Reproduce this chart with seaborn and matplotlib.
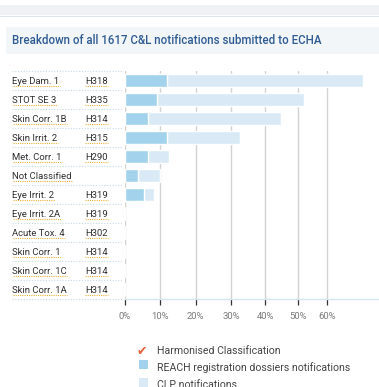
import numpy as np
import pandas as pd
import matplotlib
matplotlib.use("Agg")
import matplotlib.pyplot as plt
import matplotlib.transforms as mtransforms
from matplotlib.patches import Rectangle
from matplotlib.lines import Line2D
import seaborn as sns

# ---- data -------------------------------------------------------------
categories = ["Eye Dam. 1", "STOT SE 3", "Skin Corr. 1B", "Skin Irrit. 2",
              "Met. Corr. 1", "Not Classified", "Eye Irrit. 2", "Eye Irrit. 2A",
              "Acute Tox. 4", "Skin Corr. 1", "Skin Corr. 1C", "Skin Corr. 1A"]
hazard_codes = ["H318", "H335", "H314", "H315", "H290", "", "H319", "H319",
                "H302", "H314", "H314", "H314"]
reach_pct = [11.8, 9.0, 6.4, 11.8, 6.4, 3.6, 5.4, 0, 0, 0, 0, 0]
clp_pct = [72.6, 51.9, 44.7, 32.5, 12.5, 10.0, 8.1, 0, 0, 0, 0, 0]
tick_values = [0, 10, 20, 30, 40, 50, 60]
tick_labels = ["0%", "10%", "20%", "30%", "40%", "50%", "60%"]
legend_labels = ["Harmonised Classification",
                 "REACH registration dossiers notifications",
                 "CLP notifications"]

df = pd.DataFrame({"category": categories, "reach": reach_pct, "clp": clp_pct})

# ---- styling ----------------------------------------------------------
sns.set_style("white")
plt.rcParams["font.family"] = ["Roboto", "DejaVu Sans"]

W, H = 379, 387
fig = plt.figure(figsize=(W / 100, H / 100), dpi=100)


def fx(px):
    return px / W


def fy(py):
    return 1 - py / H


C_REACH = "#a3d3ec"
C_CLP = "#d9eaf6"
C_GRID = "#d2d2d2"

# header decorations
fig.patches.append(Rectangle((fx(0), fy(15)), 1, 10 / H, transform=fig.transFigure,
                             facecolor="#eef2f5", edgecolor="none", zorder=0))
fig.add_artist(Line2D([0, 1], [fy(15.5), fy(15.5)], transform=fig.transFigure,
                      color="#dde5ea", lw=0.8))
fig.patches.append(Rectangle((fx(6), fy(54)), 1, 27 / H, transform=fig.transFigure,
                             facecolor="#f2f6f9", edgecolor="none", zorder=0))
fig.text(fx(12), fy(41), "Breakdown of all 1617 C&L notifications submitted to ECHA",
         color="#2f5b92", fontsize=8.3, fontweight="medium", va="center", ha="left")

# ---- axes -------------------------------------------------------------
ax = fig.add_axes([fx(125), fy(299), fx(379) - fx(125), (299 - 71) / H])

# the axis spacing narrows slightly towards the upper percentages
grid_px = np.array([0, 35.3, 70.7, 106.0, 140.3, 173.3, 202.0])
grid_val = np.array(tick_values, dtype=float)
tail = (grid_px[-1] - grid_px[-2]) / (grid_val[-1] - grid_val[-2])


def fwd(x):
    x = np.asarray(x, dtype=float)
    return np.where(x <= grid_val[-1], np.interp(x, grid_val, grid_px),
                    grid_px[-1] + (x - grid_val[-1]) * tail)


def inv(p):
    p = np.asarray(p, dtype=float)
    return np.where(p <= grid_px[-1], np.interp(p, grid_px, grid_val),
                    grid_val[-1] + (p - grid_px[-1]) / tail)


ax.set_xscale("function", functions=(fwd, inv))

sns.barplot(data=df, x="clp", y="category", color=C_CLP, orient="h",
            width=0.64, ax=ax, saturation=1, zorder=2)
sns.barplot(data=df, x="reach", y="category", color=C_REACH, orient="h",
            width=0.64, ax=ax, saturation=1, zorder=3)

x_right = float(inv(379 - 125))
ax.set_xlim(0, x_right)
ax.set_ylim(len(categories) - 0.5, -0.5)
ax.set_xticks(tick_values)
ax.set_xticklabels(tick_labels)
ax.xaxis.set_minor_locator(matplotlib.ticker.NullLocator())
ax.set_yticks([])
ax.set_xlabel("")
ax.set_ylabel("")
ax.tick_params(axis="x", direction="out", length=4.5, width=0.9, color="#333333",
               labelsize=6.8, labelcolor="#7a7a7a", pad=5, bottom=True)
for t in tick_values:
    ax.axvline(t, color=C_GRID, lw=1.0, zorder=1)
for s in ["top", "right", "left"]:
    ax.spines[s].set_visible(False)
ax.spines["bottom"].set_color("#d3e5ee")
ax.spines["bottom"].set_linewidth(1.0)
ax.patch.set_alpha(0)

# ---- row labels -------------------------------------------------------
row_tr = mtransforms.blended_transform_factory(fig.transFigure, ax.transData)
baseline_off = 3.4 / (299 - 71) * len(categories)  # px -> data units
name_texts, code_texts = [], []
for i, (name, code) in enumerate(zip(categories, hazard_codes)):
    name_texts.append(fig.text(fx(12.5), i + baseline_off, name, transform=row_tr,
                               fontsize=6.8, color="#2e2e2e", va="baseline", ha="left"))
    if code:
        code_texts.append(fig.text(fx(85), i + baseline_off, code, transform=row_tr,
                                   fontsize=6.8, color="#2e2e2e", va="baseline",
                                   ha="left"))

# dotted row separators
for i in range(len(categories) + 1):
    fig.add_artist(Line2D([fx(12), fx(123)], [i - 0.5, i - 0.5], transform=row_tr,
                          color="#c6d9e5", lw=0.8, linestyle=(0, (1, 1.5))))

# dotted underline under each label
fig.canvas.draw()
renderer = fig.canvas.get_renderer()
inv_fig = fig.transFigure.inverted()
for t in name_texts + code_texts:
    bb = t.get_window_extent(renderer)
    x0, y = t.get_position()
    base_disp = row_tr.transform((x0, y))
    ly = base_disp[1] - 2.2
    p0 = inv_fig.transform((bb.x0, ly))
    p1 = inv_fig.transform((bb.x1, ly))
    fig.add_artist(Line2D([p0[0], p1[0]], [p0[1], p1[1]], transform=fig.transFigure,
                          color="#f0b23a", lw=0.8, linestyle=(0, (1, 1))))

# ---- legend -----------------------------------------------------------
fig.text(fx(137), fy(351), "\u2714", fontsize=9, color="#e5603a",
         family="DejaVu Sans", va="center", ha="left")
fig.patches.append(Rectangle((fx(139), fy(369)), 9 / W, 9 / H, transform=fig.transFigure,
                             facecolor=C_REACH, edgecolor="none"))
fig.patches.append(Rectangle((fx(139), fy(387)), 9 / W, 9 / H, transform=fig.transFigure,
                             facecolor=C_CLP, edgecolor="none"))
for k, (lab, py) in enumerate(zip(legend_labels, [351, 367.5, 384.5])):
    fig.text(fx(157), fy(py), lab, fontsize=7.6, color="#444444", va="center",
             ha="left")

fig.savefig("out.png", dpi=100)
